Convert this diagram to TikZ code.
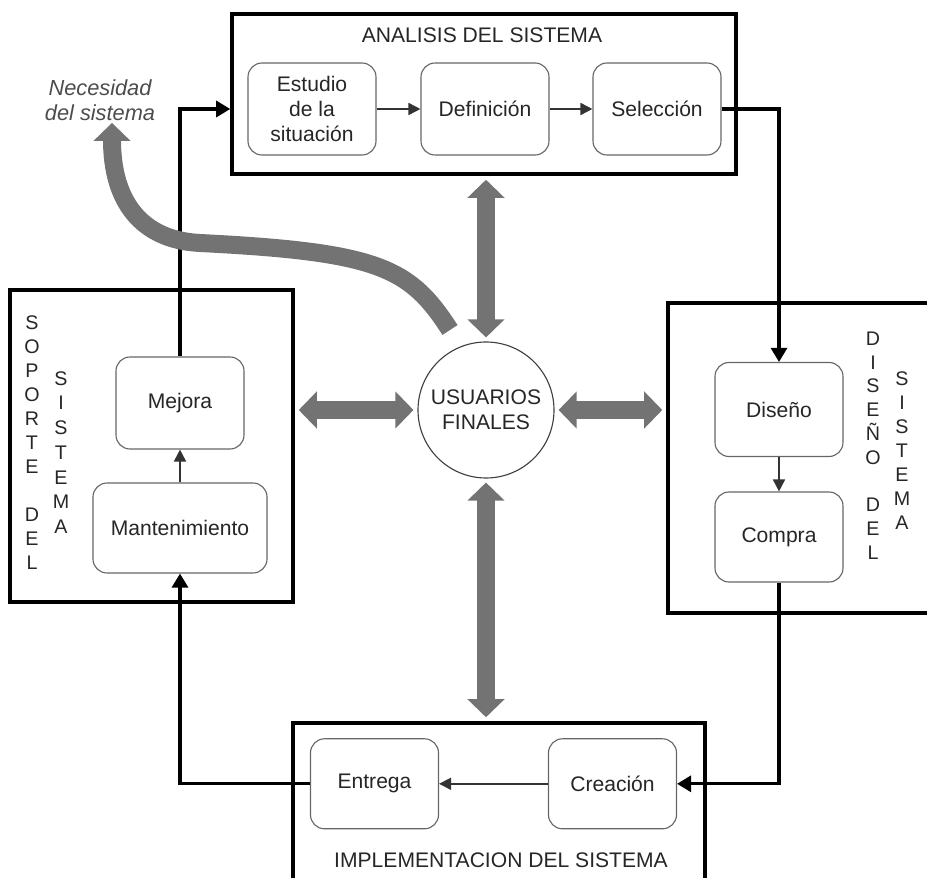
\documentclass[tikz,border=0pt]{standalone}
\usepackage{fontspec}
\setmainfont{Liberation Sans}
\usepackage{tikz}
\usetikzlibrary{arrows.meta,calc}

\begin{document}
\begin{tikzpicture}[
        % --- ESTILOS ---
        texto/.style={font=\fontsize{15}{17.5}\selectfont, text=black!85},
        bloque_node/.style={rectangle, draw=black, line width=2.5pt, inner sep=0pt},
        paso_node/.style={
            texto,
            rectangle,
            rounded corners=0.35cm,
            draw=black!60,
            line width=0.8pt,
            minimum width=3.2cm,
            minimum height=2.3cm,
            align=center,
            inner sep=0pt
        },
        usuario_node/.style={texto, circle, draw=black!75, line width=0.8pt, minimum size=3.4cm, align=center, inner sep=0pt},
        vertical_text/.style={font=\fontsize{14}{#1}\selectfont, text=black!85, align=center, inner sep=0pt},
        % Puntas de flecha
        Gruesa/.tip={Triangle[width=0.9cm,length=0.45cm]},
        Punta/.tip={Triangle[width=0.4cm,length=0.35cm]},
        Puntita/.tip={Triangle[width=0.3cm,length=0.3cm]},
        % Flechas
        flecha_gruesa/.style={draw=black!55, line width=0.45cm, Gruesa-Gruesa, shorten <=0.1cm, shorten >=0.1cm},
        conector/.style={draw=black, line width=2.2pt, -Punta},
        paso_flecha/.style={draw=black!80, line width=1.2pt, -Puntita}
    ]

        \useasboundingbox (0,0) rectangle (23.175,21.925);

        % --- ANALISIS DEL SISTEMA ---
        \node[bloque_node, minimum width=12.6cm, minimum height=4cm] (analisis) at (12.1,19.575) {};
        \node[texto] (analisis_titulo) at (12.05,21.05) {ANALISIS DEL SISTEMA};
        \node[paso_node] (estudio) at (7.8,19.2) {Estudio\\de la\\situación};
        \node[paso_node] (definicion) at (12.125,19.2) {Definición};
        \node[paso_node] (seleccion) at (16.425,19.2) {Selección};

        % --- SOPORTE DEL SISTEMA ---
        \node[bloque_node, minimum width=7.075cm, minimum height=7.8cm] (soporte) at (3.7875,10.775) {};
        \node[vertical_text=17.1pt] (soporte_a) at (0.8,10.8625) {S\\O\\P\\O\\R\\T\\E\\[17.1pt]D\\E\\L};
        \node[vertical_text=17.6pt] (soporte_b) at (1.525,10.6125) {S\\I\\S\\T\\E\\M\\A};
        \node[paso_node] (mejora) at (4.5,11.85) {Mejora};
        \node[paso_node, minimum width=4.35cm, minimum height=2.25cm] (mantenimiento) at (4.5,8.725) {Mantenimiento};

        % --- DISEÑO DEL SISTEMA ---
        \node[bloque_node, minimum width=6.6cm, minimum height=7.75cm] (diseno_bloque) at (20.0,10.475) {};
        \node[vertical_text=16.9pt] (diseno_a) at (21.825,10.7875) {D\\I\\S\\E\\Ñ\\O\\[16.9pt]D\\E\\L};
        \node[vertical_text=17.1pt] (diseno_b) at (22.55,10.6625) {S\\I\\S\\T\\E\\M\\A};
        \node[paso_node, minimum height=2.35cm] (diseno) at (19.475,11.6875) {Diseño};
        \node[paso_node, minimum height=2.25cm] (compra) at (19.475,8.5) {Compra};

        % --- IMPLEMENTACION DEL SISTEMA ---
        \node[bloque_node, minimum width=10.3cm, minimum height=4.35cm] (implementacion) at (12.475,1.675) {};
        \node[texto] (implementacion_titulo) at (12.525,0.425) {IMPLEMENTACION DEL SISTEMA};
        \node[paso_node, minimum height=2.25cm] (entrega) at (9.3625,2.33) {Entrega};
        \node[paso_node, minimum height=2.25cm] (creacion) at (15.3125,2.33) {Creación};

        % --- USUARIOS FINALES ---
        \node[usuario_node] (usuarios) at (12.15,11.675) {USUARIOS\\FINALES};
        \node[texto, font=\fontsize{15.5}{18}\selectfont\itshape, text=black!70, align=center] (necesidad) at (2.5,19.4125) {Necesidad\\del sistema};

        % --- FLUJO DEL CICLO ---
        \draw[paso_flecha] (estudio) -- (definicion);
        \draw[paso_flecha] (definicion) -- (seleccion);
        \draw[conector] (seleccion.east) -| (diseno.north);
        \draw[paso_flecha] (diseno) -- (compra);
        \draw[conector] (compra.south) |- (creacion.east);
        \draw[paso_flecha] (creacion) -- (entrega);
        \draw[conector] (entrega.west) -| (mantenimiento.south);
        \draw[paso_flecha] (mantenimiento) -- (mejora);
        \draw[conector] (mejora.north) |- (analisis.west |- estudio.west);

        % --- FLECHAS GRUESAS ---
        \draw[flecha_gruesa] (usuarios.north |- analisis.south) -- (usuarios.north);
        \draw[flecha_gruesa] (soporte.east |- usuarios.west) -- (usuarios.west);
        \draw[flecha_gruesa] (usuarios.east) -- (usuarios.east -| diseno_bloque.west);
        \draw[flecha_gruesa] (usuarios.south) -- (usuarios.south |- implementacion.north);

        \coordinate (cola) at (11.25,13.675);
        \draw[draw=black!55, line width=0.45cm, -Gruesa] (cola) .. controls (10.25,15.225) and (9.5,15.625) .. (5.0,15.85)
            .. controls (3.5,15.925) and (2.8,16.925) .. ([xshift=0.3cm,yshift=0.08cm]necesidad.south);

    \end{tikzpicture}
\end{document}
